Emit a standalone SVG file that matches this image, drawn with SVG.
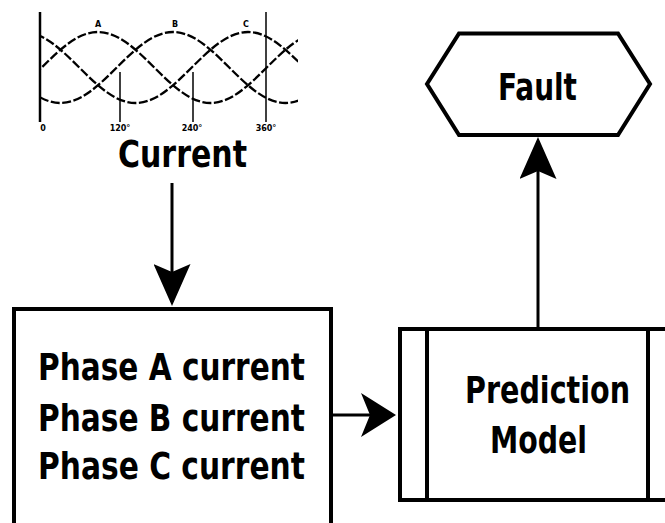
<svg xmlns="http://www.w3.org/2000/svg" width="665" height="523" viewBox="0 0 665 523">
  <style>
    .box { fill: #ffffff; stroke: #000000; stroke-width: 4; }
    .edge { fill: none; stroke: #000000; stroke-width: 3; }
    .label { font-family: "DejaVu Sans Condensed", "DejaVu Sans", sans-serif; font-weight: bold; font-size: 38px; fill: #000000; text-anchor: middle; }
    .axis { stroke: #000000; fill: none; }
    .wave { fill: none; stroke: #000000; stroke-width: 2.3; stroke-dasharray: 9 2.5; }
    .tick { font-family: "DejaVu Sans", sans-serif; font-weight: bold; font-size: 8px; fill: #000000; text-anchor: middle; }
  </style>
  <defs>
    <!-- notched arrowhead for vertical connectors -->
    <marker id="arrowV" markerUnits="userSpaceOnUse" viewBox="0 0 42 37" markerWidth="42" markerHeight="37" refX="38" refY="18.5" orient="auto">
      <path d="M0,0 L42,18.5 L0,37 L8,18.5 z" fill="#000000"/>
    </marker>
    <!-- notched arrowhead for horizontal connectors -->
    <marker id="arrowH" markerUnits="userSpaceOnUse" viewBox="0 0 35 44" markerWidth="35" markerHeight="44" refX="31" refY="22" orient="auto">
      <path d="M0,0 L35,22 L0,44 L9,22 z" fill="#000000"/>
    </marker>
    <clipPath id="waveClip">
      <rect x="40" y="0" width="258" height="140"/>
    </clipPath>
  </defs>

  <!-- three-phase current waveform -->
  <g id="waveform">
    <line class="axis" x1="40" y1="12" x2="40" y2="122" stroke-width="2.5"/>
    <line class="axis" x1="120" y1="72" x2="120" y2="122" stroke-width="1.5"/>
    <line class="axis" x1="193" y1="72" x2="193" y2="122" stroke-width="1.5"/>
    <line class="axis" x1="266" y1="12" x2="266" y2="122" stroke-width="1.5"/>
    <g clip-path="url(#waveClip)">
      <path class="wave" d="M-14.5,103 C26.4,103 57.1,32 98,32 C138.9,32 169.6,103 210.5,103 C251.4,103 282.1,32 323,32"/>
      <path class="wave" d="M-52,32 C-11.1,32 19.6,103 60.5,103 C101.4,103 132.1,32 173,32 C213.9,32 244.6,103 285.5,103 C326.4,103 357.1,32 398,32"/>
      <path class="wave" d="M-89.5,103 C-48.6,103 -17.9,32 23,32 C63.9,32 94.6,103 135.5,103 C176.4,103 207.1,32 248,32 C288.9,32 319.6,103 360.5,103"/>
    </g>
    <text class="tick" x="98" y="27">A</text>
    <text class="tick" x="175" y="27">B</text>
    <text class="tick" x="246" y="27">C</text>
    <text class="tick" x="43" y="131">0</text>
    <text class="tick" x="120" y="131">120°</text>
    <text class="tick" x="192" y="131">240°</text>
    <text class="tick" x="266" y="131">360°</text>
    <text class="label" x="182.5" y="167" textLength="129" lengthAdjust="spacingAndGlyphs">Current</text>
  </g>

  <!-- output: fault -->
  <g id="fault">
    <polygon class="box" points="459,33.5 618,33.5 650,84 618,135 459,135 427,84"/>
    <text class="label" x="537.5" y="100" textLength="79" lengthAdjust="spacingAndGlyphs">Fault</text>
  </g>

  <!-- phase currents -->
  <g id="phases">
    <rect class="box" x="14" y="309" width="317" height="240"/>
    <text class="label" x="171.5" y="380" textLength="267" lengthAdjust="spacingAndGlyphs">Phase A current</text>
    <text class="label" x="171.5" y="431" textLength="267" lengthAdjust="spacingAndGlyphs">Phase B current</text>
    <text class="label" x="171.5" y="479" textLength="267" lengthAdjust="spacingAndGlyphs">Phase C current</text>
  </g>

  <!-- predefined process: prediction model -->
  <g id="model">
    <rect class="box" x="400" y="329" width="275" height="171"/>
    <line class="box" x1="427" y1="329" x2="427" y2="500"/>
    <line class="box" x1="648" y1="329" x2="648" y2="500"/>
    <text class="label" x="547.5" y="403" textLength="165" lengthAdjust="spacingAndGlyphs">Prediction</text>
    <text class="label" x="538.5" y="453" textLength="97" lengthAdjust="spacingAndGlyphs">Model</text>
  </g>

  <!-- connectors -->
  <g id="connectors">
    <path class="edge" d="M172,183 L172,302" marker-end="url(#arrowV)"/>
    <path class="edge" d="M333,415 L392,415" marker-end="url(#arrowH)"/>
    <path class="edge" d="M538,327 L538,141" marker-end="url(#arrowV)"/>
  </g>
</svg>
